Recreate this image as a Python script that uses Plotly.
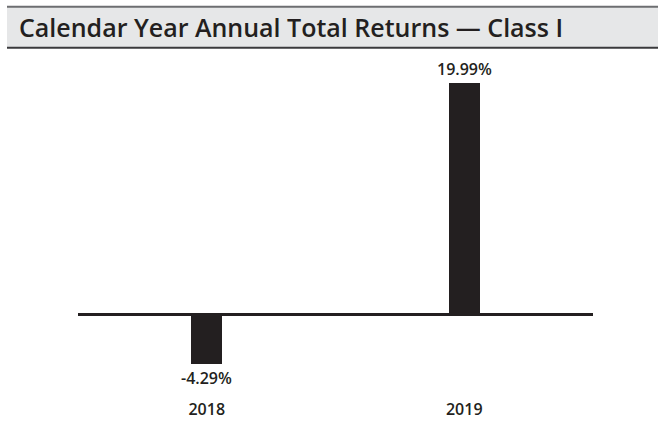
import plotly.graph_objects as go

years = ["2018", "2019"]
returns = [-4.29, 19.99]
value_labels = ["-4.29%", "19.99%"]
title_text = "Calendar Year Annual Total Returns \u2014 Class I"

W, H = 658, 423
L_PX, R_PX = 78, 593
T_PX, B_PX = 55, 392
ZERO_PX = 314
SCALE = 11.57  # px per percentage point
y_top = (ZERO_PX - T_PX) / SCALE
y_bot = -(B_PX - ZERO_PX) / SCALE

def px_x(p):
    return (p - L_PX) / (R_PX - L_PX)

def px_y(p):
    return (B_PX - p) / (B_PX - T_PX)

ink = "#231f20"
font_fam = "Open Sans, Noto Sans, sans-serif"

fig = go.Figure()
fig.add_trace(go.Bar(
    x=years, y=returns, width=0.122,
    marker=dict(color=ink, line=dict(width=0)),
    text=value_labels, textposition="outside", cliponaxis=False,
    constraintext="none",
    textfont=dict(family=font_fam, size=16, color=ink, weight=600),
    hoverinfo="skip",
))

shapes = [
    dict(type="rect", xref="paper", yref="paper",
         x0=px_x(7), x1=px_x(W + 2), y0=px_y(48), y1=px_y(7),
         fillcolor="#e6e7e8", line=dict(width=0), layer="below"),
    dict(type="line", xref="paper", yref="paper",
         x0=px_x(7), x1=px_x(W + 2), y0=px_y(6.8), y1=px_y(6.8),
         line=dict(color="#6d6e71", width=2)),
    dict(type="line", xref="paper", yref="paper",
         x0=px_x(7), x1=px_x(W + 2), y0=px_y(47.8), y1=px_y(47.8),
         line=dict(color="#3a3a3c", width=2)),
]

fig.update_layout(
    width=W, height=H,
    margin=dict(l=L_PX, r=W - R_PX, t=T_PX, b=H - B_PX, pad=0, autoexpand=False),
    paper_bgcolor="white", plot_bgcolor="white",
    showlegend=False,
    title=dict(text=title_text, x=19 / W, xanchor="left", xref="container",
               y=1 - 28.5 / H, yanchor="middle", yref="container",
               font=dict(family=font_fam, size=25, color=ink, weight=600)),
    xaxis=dict(type="category", range=[-0.5, 1.5], showgrid=False, showline=False, ticks="",
               zeroline=False, automargin=False,
               tickfont=dict(family=font_fam, size=16, color=ink, weight=600),
               ticklabelstandoff=6, fixedrange=True),
    yaxis=dict(range=[y_bot, y_top], showgrid=False, showline=False, automargin=False,
               showticklabels=False, ticks="", zeroline=True,
               zerolinecolor=ink, zerolinewidth=3, fixedrange=True),
    shapes=shapes,
    bargap=0,
)

fig.write_html("out.html", config={"displayModeBar": False},
               post_script="document.body.style.margin='0';document.body.style.overflow='hidden';")
